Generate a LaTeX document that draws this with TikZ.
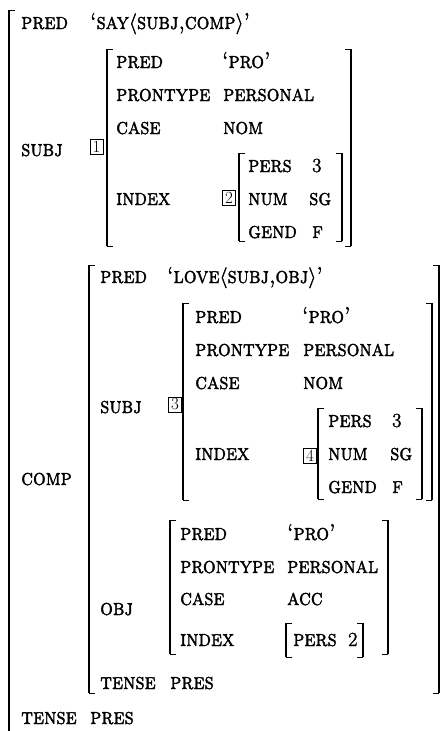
\documentclass[tikz,border=0pt]{standalone}
\usepackage{fontspec}
\usepackage{graphicx}
\newcommand{\avmfont}{\fontsize{20}{24}\selectfont\scshape}
\newcommand{\numfont}{\fontsize{20}{24}\selectfont}
\newcommand{\tagfont}{\fontsize{17}{19}\selectfont}
% heavier glyphs: fill and stroke the outlines (kept local by the node's scope)
\newcommand{\heavy}{\special{pdf:literal 2 Tr 0.35 w}}
\newcommand{\la}{{\fontsize{20.74}{24}\selectfont$\langle$}}
\newcommand{\ra}{{\fontsize{20.74}{24}\selectfont$\rangle$}}
% small caps set a little taller than the font draws them
\newcommand{\av}[1]{\scalebox{1}[1.15]{#1}}
% left and right brackets of an attribute-value matrix, from (<name>tl) to (<name>br)
\newcommand{\avmbrackets}[1]{%
  \draw[brkbar] (#1tl) -- (#1tl |- #1br);
  \draw[brktick] (#1tl) -- ++(6,0);
  \draw[brktick] (#1tl |- #1br) -- ++(6,0);
  \draw[brkbar] (#1br |- #1tl) -- (#1br);
  \draw[brktick] (#1br |- #1tl) -- ++(-6,0);
  \draw[brktick] (#1br) -- ++(-6,0);}
\begin{document}
\begin{tikzpicture}[x=1pt,y=-1pt,
  lbl/.style={anchor=base west, inner sep=0pt, font=\avmfont,
    execute at begin node=\heavy},
  numlbl/.style={anchor=base west, inner sep=0pt, font=\numfont,
    execute at begin node=\heavy},
  tag/.style={draw, line width=0.5pt, inner sep=0pt, minimum width=13pt,
    minimum height=15pt, font=\tagfont, anchor=center},
  brkbar/.style={line width=1.6pt},
  brktick/.style={line width=0.7pt}]
\useasboundingbox (0,0) rectangle (443,731);

% outermost f-structure (its right edge lies past the page)
\coordinate (m0tl) at (9,10);
\coordinate (m0b) at (9,731);
\draw[brkbar] (m0tl) -- (m0b);
\draw[brktick] (m0tl) -- ++(6,0);
\node[lbl] (p0) at (21,29) {\av{pred}};
\node[lbl] (v0) at (90,29) {\av{‘say}\la\av{subj,comp}\ra\av{’}};
\node[lbl] (s0) at (21,156) {\av{subj}};
\node[tag] (t1) at (96.5,147) {1};
\node[lbl] (c0) at (21,485) {\av{comp}};
\node[lbl] (te0) at (21,724) {\av{tense}};
\node[lbl] (tv0) at (90,724) {\av{pres}};

% SUBJ of SAY
\coordinate (m1tl) at (107,49);
\coordinate (m1br) at (351,246);
\avmbrackets{m1}
\node[lbl] (p1) at (116,68) {\av{pred}};
\node[lbl] (pv1) at (222,68) {\av{‘pro’}};
\node[lbl] (pt1) at (116,101) {\av{prontype}};
\node[lbl] (ptv1) at (223,101) {\av{personal}};
\node[lbl] (cs1) at (116,134) {\av{case}};
\node[lbl] (csv1) at (223,134) {\av{nom}};
\node[lbl] (ix1) at (116,205) {\av{index}};
\node[tag] (t2) at (229,197.5) {2};

\coordinate (m2tl) at (239,153);
\coordinate (m2br) at (342,241);
\avmbrackets{m2}
\node[lbl] (pe2) at (248,172) {\av{pers}};
\node[numlbl] (pev2) at (312,172) {3};
\node[lbl] (nu2) at (248,205) {\av{num}};
\node[lbl] (nuv2) at (309,205) {\av{sg}};
\node[lbl] (ge2) at (248,238) {\av{gend}};
\node[lbl] (gev2) at (312,238) {\av{f}};

% COMP
\coordinate (m3tl) at (89,265);
\coordinate (m3br) at (439,693);
\avmbrackets{m3}
\node[lbl] (p3) at (100,283) {\av{pred}};
\node[lbl] (v3) at (167,283) {\av{‘love}\la\av{subj,obj}\ra\av{’}};
\node[lbl] (s3) at (100,413) {\av{subj}};
\node[tag] (t3) at (175,404.5) {3};
\node[lbl] (o3) at (100,615) {\av{obj}};
\node[lbl] (te3) at (100,689) {\av{tense}};
\node[lbl] (tv3) at (170,689) {\av{pres}};

% SUBJ of LOVE
\coordinate (m4tl) at (183,303);
\coordinate (m4br) at (432,500);
\avmbrackets{m4}
\node[lbl] (p4) at (195,323) {\av{pred}};
\node[lbl] (pv4) at (302,323) {\av{‘pro’}};
\node[lbl] (pt4) at (195,356) {\av{prontype}};
\node[lbl] (ptv4) at (303,356) {\av{personal}};
\node[lbl] (cs4) at (195,389) {\av{case}};
\node[lbl] (csv4) at (303,389) {\av{nom}};
\node[lbl] (ix4) at (195,460) {\av{index}};
\node[tag] (t4) at (310,455.5) {4};

\coordinate (m5tl) at (318,408);
\coordinate (m5br) at (422,499);
\avmbrackets{m5}
\node[lbl] (pe5) at (328,427) {\av{pers}};
\node[numlbl] (pev5) at (392,427) {3};
\node[lbl] (nu5) at (328,460) {\av{num}};
\node[lbl] (nuv5) at (390,460) {\av{sg}};
\node[lbl] (ge5) at (328,493) {\av{gend}};
\node[lbl] (gev5) at (392,493) {\av{f}};

% OBJ of LOVE
\coordinate (m6tl) at (170,520);
\coordinate (m6br) at (388,654);
\avmbrackets{m6}
\node[lbl] (p6) at (180,540) {\av{pred}};
\node[lbl] (pv6) at (287,540) {\av{‘pro’}};
\node[lbl] (pt6) at (180,573) {\av{prontype}};
\node[lbl] (ptv6) at (287,573) {\av{personal}};
\node[lbl] (cs6) at (180,605) {\av{case}};
\node[lbl] (csv6) at (287,605) {\av{acc}};
\node[lbl] (ix6) at (180,646) {\av{index}};

\coordinate (m7tl) at (286,623);
\coordinate (m7br) at (363,657);
\avmbrackets{m7}
\node[lbl] (pe7) at (293,646) {\av{pers}};
\node[numlbl] (pev7) at (348,646) {2};
\end{tikzpicture}
\end{document}
